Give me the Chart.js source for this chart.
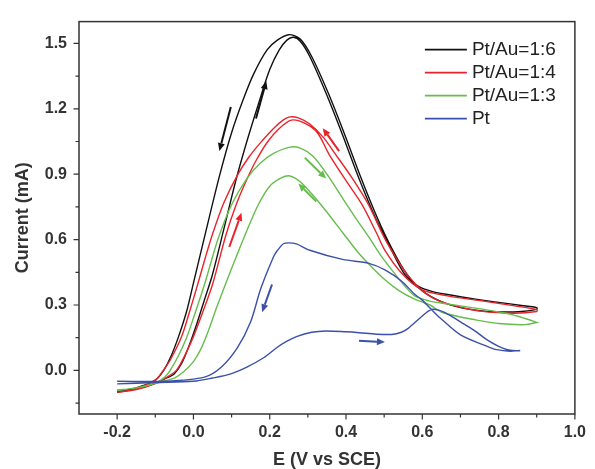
<!DOCTYPE html>
<html>
<head>
<meta charset="utf-8">
<script src="https://cdn.jsdelivr.net/npm/chart.js@4/dist/chart.umd.min.js"></script>
<style>
  html, body { margin: 0; padding: 0; background: #fff; }
</style>
</head>
<body>
<canvas id="cv" width="595" height="469"></canvas>
<script>
  // ---- data (E in V vs SCE, current in mA) ----
  const seriesLabels = ["Pt/Au=1:6", "Pt/Au=1:4", "Pt/Au=1:3", "Pt"];
  const seriesColors = ["#111111", "#e8232b", "#66bd4c", "#3b50a8"];

  // Pt/Au=1:6 (forward scan then reverse scan)
  const au16Fwd = [[-0.2,-0.1],[-0.15,-0.085],[-0.1,-0.058],[-0.074,-0.038],[-0.05,-0.015],[-0.03,0.035],[-0.01,0.12],[0.01,0.22],[0.03,0.33],[0.05,0.44],[0.08,0.65],[0.111,0.87],[0.14,1.05],[0.17,1.22],[0.2,1.38],[0.225,1.47],[0.245,1.515],[0.262,1.528],[0.28,1.51],[0.305,1.44],[0.348,1.27],[0.391,1.08],[0.434,0.88],[0.477,0.7],[0.511,0.58],[0.554,0.44],[0.59,0.385],[0.63,0.36],[0.666,0.348],[0.735,0.328],[0.8,0.312],[0.86,0.298],[0.9,0.288]];
  const au16Rev = [[0.9,0.28],[0.86,0.27],[0.8,0.268],[0.75,0.274],[0.7,0.288],[0.65,0.315],[0.6,0.365],[0.56,0.44],[0.52,0.56],[0.482,0.7],[0.44,0.88],[0.397,1.08],[0.354,1.27],[0.31,1.44],[0.28,1.52],[0.25,1.54],[0.22,1.515],[0.193,1.47],[0.158,1.36],[0.13,1.24],[0.1,1.09],[0.068,0.89],[0.034,0.648],[0.0,0.4],[-0.018,0.27],[-0.039,0.155],[-0.06,0.06],[-0.078,0.0],[-0.1,-0.045],[-0.15,-0.08],[-0.2,-0.094]];

  // Pt/Au=1:4
  const au14Fwd = [[-0.2,-0.1],[-0.15,-0.088],[-0.1,-0.06],[-0.07,-0.032],[-0.045,0.0],[-0.025,0.06],[0.0,0.155],[0.025,0.27],[0.051,0.4],[0.085,0.62],[0.112,0.76],[0.141,0.88],[0.165,0.965],[0.195,1.05],[0.225,1.11],[0.257,1.148],[0.29,1.135],[0.325,1.09],[0.356,0.99],[0.4,0.87],[0.442,0.76],[0.48,0.63],[0.502,0.551],[0.546,0.446],[0.597,0.372],[0.666,0.342],[0.752,0.32],[0.838,0.297],[0.9,0.279]];
  const au14Rev = [[0.9,0.27],[0.838,0.262],[0.752,0.272],[0.7,0.29],[0.666,0.305],[0.63,0.33],[0.6,0.365],[0.565,0.43],[0.53,0.52],[0.5,0.61],[0.459,0.76],[0.415,0.885],[0.373,0.99],[0.34,1.07],[0.305,1.13],[0.275,1.158],[0.253,1.163],[0.235,1.148],[0.21,1.11],[0.176,1.045],[0.146,0.98],[0.115,0.895],[0.08,0.77],[0.051,0.63],[0.03,0.51],[0.012,0.4],[-0.01,0.27],[-0.031,0.155],[-0.06,0.05],[-0.083,-0.01],[-0.1,-0.045],[-0.15,-0.085],[-0.2,-0.1]];

  // Pt/Au=1:3
  const au13Fwd = [[-0.2,-0.09],[-0.15,-0.08],[-0.1,-0.058],[-0.075,-0.03],[-0.061,0.0],[-0.04,0.065],[-0.018,0.15],[0.0,0.24],[0.03,0.4],[0.064,0.6],[0.1,0.76],[0.14,0.88],[0.175,0.95],[0.21,0.995],[0.253,1.024],[0.28,1.02],[0.313,0.984],[0.35,0.9],[0.391,0.79],[0.425,0.7],[0.46,0.611],[0.49,0.53],[0.52,0.461],[0.55,0.395],[0.58,0.342],[0.62,0.318],[0.666,0.305],[0.752,0.282],[0.82,0.262],[0.87,0.238],[0.9,0.22]];
  const au13Rev = [[0.9,0.22],[0.87,0.21],[0.8,0.215],[0.74,0.232],[0.7,0.245],[0.65,0.268],[0.62,0.3],[0.58,0.327],[0.54,0.365],[0.502,0.416],[0.47,0.47],[0.434,0.536],[0.39,0.635],[0.348,0.73],[0.31,0.81],[0.28,0.865],[0.253,0.892],[0.23,0.883],[0.2,0.845],[0.17,0.76],[0.141,0.645],[0.112,0.52],[0.085,0.4],[0.06,0.285],[0.04,0.185],[0.02,0.1],[0.0,0.04],[-0.025,-0.005],[-0.05,-0.035],[-0.08,-0.05],[-0.1,-0.06],[-0.15,-0.08],[-0.2,-0.092]];

  // Pt
  const ptFwd = [[-0.2,-0.062],[-0.1,-0.056],[0.0,-0.05],[0.05,-0.035],[0.098,-0.016],[0.14,0.015],[0.184,0.058],[0.219,0.105],[0.244,0.133],[0.27,0.155],[0.31,0.175],[0.348,0.181],[0.4,0.177],[0.434,0.173],[0.48,0.166],[0.52,0.165],[0.545,0.175],[0.563,0.193],[0.597,0.245],[0.623,0.279],[0.645,0.275],[0.67,0.255],[0.7,0.223],[0.735,0.185],[0.769,0.141],[0.8,0.11],[0.821,0.096],[0.845,0.09],[0.855,0.09]];
  const ptRev = [[0.855,0.092],[0.83,0.088],[0.795,0.095],[0.769,0.111],[0.7,0.163],[0.649,0.237],[0.631,0.267],[0.597,0.327],[0.58,0.349],[0.546,0.409],[0.502,0.461],[0.46,0.491],[0.391,0.509],[0.305,0.551],[0.27,0.58],[0.25,0.585],[0.236,0.581],[0.22,0.55],[0.21,0.521],[0.176,0.372],[0.15,0.223],[0.115,0.103],[0.072,0.013],[0.029,-0.031],[-0.074,-0.05],[-0.2,-0.05]];

  // scan direction arrows: [x0, y0, x1, y1], head at (x1, y1)
  const au16Arrows = [[0.098,1.208,0.068,1.006],[0.164,1.155,0.191,1.327]];
  const au14Arrows = [[0.382,1.006,0.339,1.111],[0.094,0.566,0.126,0.723]];
  const au13Arrows = [[0.292,0.976,0.348,0.88],[0.322,0.775,0.275,0.857]];
  const ptArrows = [[0.206,0.394,0.18,0.267],[0.434,0.136,0.502,0.13]];

  const xMajorTicks = [-0.2, 0.0, 0.2, 0.4, 0.6, 0.8, 1.0];
  const xMinorTicks = [-0.1, 0.1, 0.3, 0.5, 0.7, 0.9];
  const yMajorTicks = [0.0, 0.3, 0.6, 0.9, 1.2, 1.5];
  const yMinorTicks = [-0.15, 0.15, 0.45, 0.75, 1.05, 1.35];

  const FONT = '"Liberation Sans", Arial, sans-serif';

  const loops = [au16Fwd.concat(au16Rev), au14Fwd.concat(au14Rev), au13Fwd.concat(au13Rev), ptFwd.concat(ptRev)];
  const arrows = [au16Arrows, au14Arrows, au13Arrows, ptArrows];

  const datasets = loops.map((pts, i) => ({
    label: seriesLabels[i],
    data: pts.map(p => ({ x: p[0], y: p[1] })),
    borderColor: seriesColors[i],
    backgroundColor: seriesColors[i],
    borderWidth: 1.4,
    pointRadius: 0,
    showLine: true,
    fill: false,
    tension: 0.3
  })).reverse();

  function drawArrow(ctx, x0, y0, x1, y1, color) {
    const ang = Math.atan2(y1 - y0, x1 - x0);
    const hl = 8, hw = 3.5;
    const bx = x1 - hl * Math.cos(ang), by = y1 - hl * Math.sin(ang);
    ctx.strokeStyle = color;
    ctx.fillStyle = color;
    ctx.lineWidth = 2;
    ctx.beginPath();
    ctx.moveTo(x0, y0);
    ctx.lineTo(bx, by);
    ctx.stroke();
    ctx.beginPath();
    ctx.moveTo(x1, y1);
    ctx.lineTo(bx + hw * Math.sin(ang), by - hw * Math.cos(ang));
    ctx.lineTo(bx - hw * Math.sin(ang), by + hw * Math.cos(ang));
    ctx.closePath();
    ctx.fill();
  }

  const decor = {
    id: "decor",
    afterDatasetsDraw(chart) {
      const { ctx, scales: { x, y } } = chart;
      ctx.save();
      arrows.forEach((list, i) => {
        list.forEach(a => {
          drawArrow(ctx, x.getPixelForValue(a[0]), y.getPixelForValue(a[1]),
            x.getPixelForValue(a[2]), y.getPixelForValue(a[3]), seriesColors[i]);
        });
      });
      ctx.restore();
    },
    afterDraw(chart) {
      const { ctx, chartArea: a, scales: { x, y } } = chart;
      ctx.save();
      // frame
      ctx.strokeStyle = "#333";
      ctx.lineWidth = 1.5;
      ctx.strokeRect(a.left, a.top, a.right - a.left, a.bottom - a.top);

      // outward tick marks
      ctx.lineWidth = 1.2;
      ctx.beginPath();
      xMajorTicks.forEach(v => { const p = x.getPixelForValue(v); ctx.moveTo(p, a.bottom); ctx.lineTo(p, a.bottom + 5.5); });
      xMinorTicks.forEach(v => { const p = x.getPixelForValue(v); ctx.moveTo(p, a.bottom); ctx.lineTo(p, a.bottom + 3.5); });
      yMajorTicks.forEach(v => { const p = y.getPixelForValue(v); ctx.moveTo(a.left, p); ctx.lineTo(a.left - 5.5, p); });
      yMinorTicks.forEach(v => { const p = y.getPixelForValue(v); ctx.moveTo(a.left, p); ctx.lineTo(a.left - 3.5, p); });
      ctx.stroke();

      // legend (top right, inside the plot)
      const lx0 = a.right - 150, lx1 = a.right - 108, tx = a.right - 103;
      ctx.font = "19px " + FONT;
      ctx.textBaseline = "middle";
      ctx.textAlign = "left";
      seriesLabels.forEach((lab, i) => {
        const ry = a.top + 28 + i * 23;
        ctx.strokeStyle = seriesColors[i];
        ctx.lineWidth = 1.6;
        ctx.beginPath();
        ctx.moveTo(lx0, ry);
        ctx.lineTo(lx1, ry);
        ctx.stroke();
        ctx.fillStyle = "#222";
        ctx.fillText(lab, tx, ry);
      });
      ctx.restore();
    }
  };

  new Chart(document.getElementById("cv"), {
    type: "scatter",
    data: { datasets },
    plugins: [decor],
    options: {
      responsive: false,
      animation: false,
      layout: { padding: { top: 12, right: 12, left: 0, bottom: 0 } },
      plugins: { legend: { display: false }, tooltip: { enabled: false } },
      scales: {
        x: {
          type: "linear",
          min: -0.3,
          max: 1.0,
          afterBuildTicks: s => { s.ticks = xMajorTicks.map(v => ({ value: v })); },
          afterFit: s => { s.height = 55; },
          grid: { display: false, drawTicks: false },
          border: { display: false },
          ticks: {
            autoSkip: false, maxRotation: 0, padding: 9,
            color: "#333",
            font: { family: FONT, size: 16, weight: "bold" },
            callback: v => Number(v).toFixed(1)
          },
          title: {
            display: true,
            text: "E (V vs SCE)",
            color: "#333",
            padding: 0,
            font: { family: FONT, size: 18, weight: "bold", lineHeight: 1 }
          }
        },
        y: {
          type: "linear",
          min: -0.2,
          max: 1.6,
          afterBuildTicks: s => { s.ticks = yMajorTicks.map(v => ({ value: v })); },
          afterFit: s => { s.width = 79; },
          grid: { display: false, drawTicks: false },
          border: { display: false },
          ticks: {
            autoSkip: false, padding: 12,
            color: "#333",
            font: { family: FONT, size: 16, weight: "bold" },
            callback: v => Number(v).toFixed(1)
          },
          title: {
            display: true,
            text: "Current (mA)",
            color: "#333",
            padding: { top: 12, bottom: 0 },
            font: { family: FONT, size: 18, weight: "bold", lineHeight: 1.2 }
          }
        }
      }
    }
  });
</script>
</body>
</html>
